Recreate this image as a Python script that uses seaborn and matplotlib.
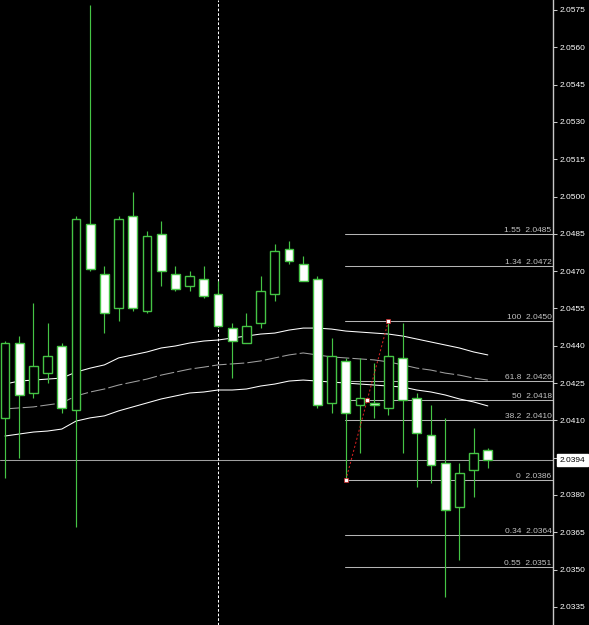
import matplotlib
matplotlib.use("Agg")
import matplotlib.pyplot as plt
import matplotlib.transforms as mtransforms
import numpy as np
import pandas as pd
import seaborn as sns

# ---------------- data ----------------
opens = [2.0411, 2.0441, 2.0421, 2.0429, 2.0440, 2.0414, 2.0489, 2.0469, 2.0455, 2.0492,
         2.0454, 2.0485, 2.0469, 2.0464, 2.0467, 2.0461, 2.0447, 2.0441, 2.0449, 2.0461,
         2.0479, 2.0473, 2.0467, 2.0417, 2.0434, 2.0416, 2.0417, 2.0415, 2.0435, 2.0419,
         2.0404, 2.0393, 2.0375, 2.0390, 2.0398]
closes = [2.0441, 2.0420, 2.0432, 2.0436, 2.0415, 2.0491, 2.0471, 2.0453, 2.0491, 2.0455,
          2.0484, 2.0470, 2.0463, 2.0468, 2.0460, 2.0448, 2.0442, 2.0448, 2.0462, 2.0478,
          2.0474, 2.0466, 2.0416, 2.0436, 2.0413, 2.0419, 2.0416, 2.0436, 2.0418, 2.0405,
          2.0392, 2.0374, 2.0389, 2.0397, 2.0394]
highs = [2.0442, 2.0444, 2.0457, 2.0449, 2.0441, 2.0492, 2.0577, 2.0472, 2.0492, 2.0502,
         2.0486, 2.0490, 2.0472, 2.0470, 2.0472, 2.0466, 2.0449, 2.0453, 2.0468, 2.0481,
         2.0482, 2.0476, 2.0468, 2.0443, 2.0435, 2.0435, 2.0433, 2.0450, 2.0449, 2.0421,
         2.0416, 2.0411, 2.0393, 2.0407, 2.0399]
lows = [2.0387, 2.0395, 2.0419, 2.0425, 2.0413, 2.0367, 2.0470, 2.0445, 2.0450, 2.0454,
        2.0453, 2.0464, 2.0462, 2.0462, 2.0459, 2.0448, 2.0427, 2.0441, 2.0447, 2.0458,
        2.0473, 2.0466, 2.0415, 2.0413, 2.0386, 2.0397, 2.0411, 2.0412, 2.0397, 2.0383,
        2.0385, 2.0339, 2.0354, 2.0379, 2.0391]

band_upper = [2.04246, 2.04258, 2.04262, 2.04266, 2.04270, 2.04294, 2.04310, 2.04323, 2.04351, 2.04363,
              2.04375, 2.04391, 2.04399, 2.04411, 2.04419, 2.04423, 2.04431, 2.04439, 2.04447, 2.04451,
              2.04463, 2.04471, 2.04471, 2.04467, 2.04459, 2.04455, 2.04451, 2.04447, 2.04439, 2.04427,
              2.04415, 2.04403, 2.04391, 2.04375, 2.04363]
band_mid = [2.04146, 2.04150, 2.04154, 2.04162, 2.04170, 2.04198, 2.04214, 2.04226, 2.04242, 2.04254,
            2.04266, 2.04282, 2.04294, 2.04306, 2.04314, 2.04323, 2.04327, 2.04331, 2.04339, 2.04351,
            2.04363, 2.04371, 2.04363, 2.04355, 2.04351, 2.04347, 2.04343, 2.04335, 2.04323, 2.04310,
            2.04302, 2.04290, 2.04282, 2.04270, 2.04262]
band_lower = [2.04037, 2.04045, 2.04053, 2.04057, 2.04065, 2.04097, 2.04110, 2.04118, 2.04138, 2.04154,
              2.04170, 2.04186, 2.04198, 2.04210, 2.04214, 2.04222, 2.04222, 2.04226, 2.04238, 2.04246,
              2.04258, 2.04262, 2.04258, 2.04254, 2.04250, 2.04246, 2.04242, 2.04238, 2.04234, 2.04222,
              2.04214, 2.04202, 2.04186, 2.04174, 2.04158]

fib_labels = ["1.55", "1.34", "100", "61.8", "50", "38.2", "0", "0.34", "0.55"]
fib_prices = [2.0485, 2.0472, 2.0450, 2.0426, 2.0418, 2.0410, 2.0386, 2.0364, 2.0351]
fib_start = 24
trend_x = [24, 27]
trend_y = [2.0386, 2.0450]
bid_price = 2.0394
vline_bar = 15
ytick_values = [2.0575, 2.0560, 2.0545, 2.0530, 2.0515, 2.0500, 2.0485, 2.0470, 2.0455,
                2.0440, 2.0425, 2.0410, 2.0395, 2.0380, 2.0365, 2.0350, 2.0335]
ytick_labels = ["2.0575", "2.0560", "2.0545", "2.0530", "2.0515", "2.0500", "2.0485", "2.0470", "2.0455",
                "2.0440", "2.0425", "2.0410", "", "2.0380", "2.0365", "2.0350", "2.0335"]

# ---------------- style ----------------
sns.set_theme(style="dark")
plt.rcParams["font.family"] = ["Liberation Sans", "DejaVu Sans"]

GREEN = "#45c445"
LW = 0.75

fig = plt.figure(figsize=(5.89, 6.25), dpi=100, facecolor="black")
ax = fig.add_axes([0, 0, 553 / 589, 1])
ax.set_facecolor("black")

idx = np.arange(len(opens))
df = pd.DataFrame({"bar": idx, "upper": band_upper, "mid": band_mid, "lower": band_lower})

# bands
sns.lineplot(data=df, x="bar", y="upper", ax=ax, color="white", lw=LW, zorder=2)
sns.lineplot(data=df, x="bar", y="lower", ax=ax, color="white", lw=LW, zorder=2)
sns.lineplot(data=df, x="bar", y="mid", ax=ax, color="#a0a0a0", lw=LW, zorder=2,
             linestyle=(0, (14, 3)))

# fib levels
x_right = 38.59
for lab, p in zip(fib_labels, fib_prices):
    ax.plot([fib_start - 0.05, x_right], [p, p], color="#b4b4b4", lw=LW, zorder=1)
    ax.text(x_right - 0.1, p, f"{lab}  {p:.4f}", ha="right", va="bottom",
            fontsize=6, color="#c4c4c4", zorder=6)

# bid line
ax.axhline(bid_price, color="#a0a0a0", lw=LW, zorder=1)

# vertical dotted separator
ax.axvline(vline_bar, color="white", lw=LW, ls=(0, (2.6, 1.8)), zorder=1)

# candles
o = np.array(opens); c = np.array(closes)
bull = c >= o
ax.vlines(idx, lows, highs, color=GREEN, lw=0.85, zorder=3)
ax.bar(idx, np.abs(c - o), bottom=np.minimum(o, c), width=0.62,
       color=np.where(bull, "black", "white"), edgecolor=GREEN, linewidth=1.0, zorder=4)

# trend line of fib with anchor points
ax.plot(trend_x, trend_y, color="#d02020", lw=LW, ls=(0, (2, 2)), zorder=5)
mx = [trend_x[0], (trend_x[0] + trend_x[1]) / 2, trend_x[1]]
my = [trend_y[0], (trend_y[0] + trend_y[1]) / 2, trend_y[1]]
ax.plot(mx, my, ls="none", marker="s", ms=2.5, mfc="white", mec="#d02020", mew=0.5, zorder=6)

# axes
ax.set_xlim(-0.352, x_right)
ax.set_ylim(2.032771, 2.057902)
ax.set_xlabel("")
ax.set_ylabel("")
ax.set_xticks([])
ax.yaxis.tick_right()
ax.set_yticks(ytick_values)
ax.set_yticklabels(ytick_labels)
ax.tick_params(axis="y", colors="#c8c8c8", labelcolor="white", length=3, width=LW,
               pad=2, labelsize=6, direction="out")
for s in ["top", "bottom", "left"]:
    ax.spines[s].set_visible(False)
ax.spines["right"].set_visible(True)
ax.spines["right"].set_color("#c8c8c8")
ax.spines["right"].set_linewidth(1)
ax.grid(False)

# current price box
trans = mtransforms.blended_transform_factory(ax.transAxes, ax.transData)
ax.text(1.012, bid_price, f"{bid_price:.4f}", transform=trans, ha="left", va="center",
        fontsize=6, color="black", clip_on=False, zorder=10,
        bbox=dict(boxstyle="square,pad=0.3", fc="white", ec="white"))

fig.savefig("out.png", dpi=100, facecolor="black")
